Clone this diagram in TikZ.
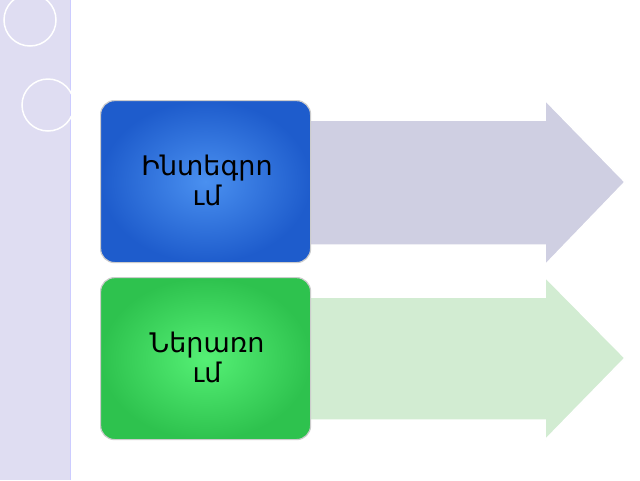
\documentclass[tikz,border=0pt]{standalone}
\usepackage{fontspec}
\newfontfamily\armfont{DejaVu Sans}
\begin{document}
\begin{tikzpicture}[x=1pt,y=-1pt,
  boxs/.style={rounded corners=14pt, draw=gray!40, line width=1.2pt, minimum width=210pt, minimum height=162pt, anchor=north west, inner sep=0pt},
  arr/.style={draw=white, line width=1.5pt},
  lab/.style={font=\armfont\fontsize{27}{30}\selectfont, align=center, text=black}]
\useasboundingbox (0,0) rectangle (640,480);
\fill[white] (0,0) rectangle (640,480);
\fill[cyan!15!blue!12] (0,0) rectangle (70,480);
\draw[blue!20, line width=1pt] (70,0) -- (70,480);
\draw[white, line width=1.5pt] (30,20) circle (26);
\draw[white, line width=1.5pt] (48,105) circle (26);
% arrows
\path[arr, fill=blue!25!gray!30] (300,120) -- (545,120) -- (545,100) -- (625,182) -- (545,265) -- (545,245) -- (300,245) -- cycle;
\path[arr, fill=green!40!gray!25] (300,297) -- (545,297) -- (545,277) -- (625,358) -- (545,440) -- (545,420) -- (300,420) -- cycle;
% boxes
\definecolor{bi}{HTML}{4A90F0}\definecolor{bo}{HTML}{1E5CCC}
\definecolor{gi}{HTML}{55F075}\definecolor{go}{HTML}{2EC24E}
\node[boxs, inner color=bi, outer color=bo] (b1) at (100,100) {};
\node[boxs, inner color=gi, outer color=go] (b2) at (100,277) {};
\node[lab] (t1) at (207,180) {Ինտեգրո\\ւմ};
\node[lab] (t2) at (207,357) {Ներառո\\ւմ};
\end{tikzpicture}
\end{document}
